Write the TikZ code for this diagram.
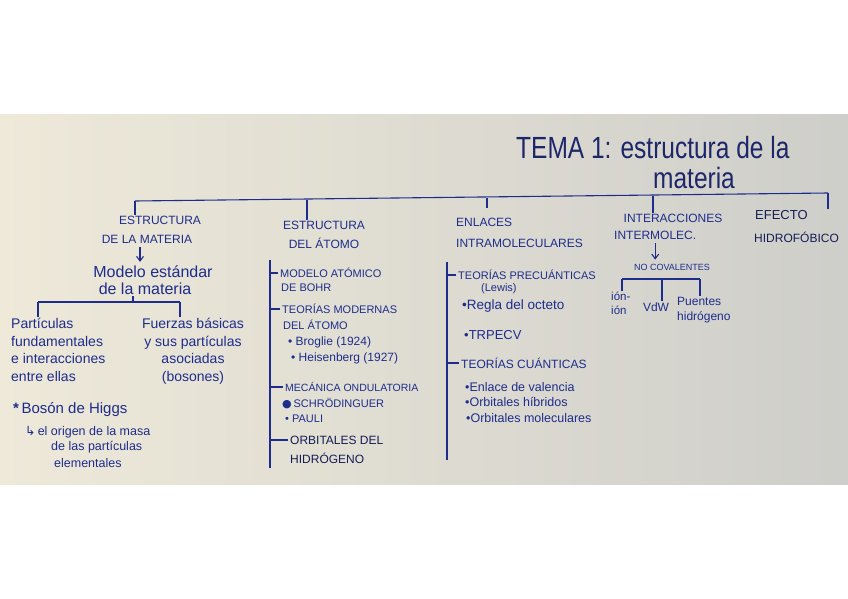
\documentclass[tikz,border=0pt]{standalone}
\usepackage{fontspec}
\setmainfont{Liberation Sans}
\newfontfamily\symfont{DejaVu Sans}
\usetikzlibrary{arrows.meta}

\definecolor{ink}{RGB}{30,45,140}
\definecolor{darkink}{RGB}{22,28,85}
\definecolor{titleink}{RGB}{28,38,105}
\definecolor{boardleft}{RGB}{238,233,217}
\definecolor{boardmid}{RGB}{232,230,220}
\definecolor{boardright}{RGB}{206,206,202}

\begin{document}
\begin{tikzpicture}[x = 1pt, y = -1pt,
    every node/.style = {text = ink, inner sep = 1pt},
    title/.style      = {text = titleink, font = \fontsize{24.5}{28}\selectfont},
    head/.style       = {font = \fontsize{12}{14}\selectfont},
    lead/.style       = {font = \fontsize{16}{18}\selectfont},
    block/.style      = {font = \fontsize{14}{17.5}\selectfont, align = left},
    note/.style       = {font = \fontsize{12.5}{15}\selectfont, anchor = west},
    itemcaps/.style   = {font = \fontsize{11}{13}\selectfont, anchor = west},
    itemhand/.style   = {font = \fontsize{12.5}{15}\selectfont, anchor = west},
    link/.style       = {draw = ink, line width = 1.1pt},
    arr/.style        = {link, -{Straight Barb[length = 1.6mm, width = 2.4mm]}, shorten < = 3pt, shorten > = 3pt},
]

\useasboundingbox (0,0) rectangle (848,599);
\shade[left color = boardleft, middle color = boardmid, right color = boardright] (0,115) rectangle (848,484);

% ---------- title ----------
\node[title, anchor = base west] (title1) at (515,158) {\scalebox{1}[1.25]{TEMA 1: estructura de la}};
\node[title, anchor = base]      (title2) at (694,188) {\scalebox{1}[1.2]{materia}};

% ---------- headers ----------
\node[head] (mat1) at (160,220) {ESTRUCTURA};
\node[head] (mat2) at (147,239) {DE LA MATERIA};
\node[head] (ato1) at (324,225) {ESTRUCTURA};
\node[head] (ato2) at (324,243) {DEL ÁTOMO};
\node[head, anchor = west] (enl1) at (455,222) {ENLACES};
\node[head, anchor = west] (enl2) at (455,243) {INTRAMOLECULARES};
\node[head] (int1) at (673,218) {INTERACCIONES};
\node[head, anchor = west] (int2) at (613,235) {INTERMOLEC.};
\node[head, anchor = west, text = darkink, font = \fontsize{13}{15}\selectfont] (efe1) at (754,215) {EFECTO};
\node[head, anchor = west, text = darkink] (efe2) at (753,237) {HIDROFÓBICO};

% ---------- estructura de la materia ----------
\node[lead] (std1) at (153,272) {Modelo estándar};
\node[lead] (std2) at (145,289) {de la materia};
\node[block, anchor = north west] (part) at (10,317) {Partículas\\fundamentales\\e interacciones\\entre ellas};
\node[block, align = center, anchor = north] (fuer) at (193,317) {Fuerzas básicas\\y sus partículas\\asociadas\\(bosones)};
\node[font = \fontsize{15}{17}\selectfont, anchor = west] (higgs) at (12,410) {\textbf{*}\,Bosón de Higgs};
\node[note] (mass1) at (24,432) {{\symfont ↳}\,el origen de la masa};
\node[note] (mass2) at (50,447) {de las partículas};
\node[note] (mass3) at (53,463) {elementales};

% ---------- estructura del atomo ----------
\node[itemcaps] (bohr1) at (279,273) {MODELO ATÓMICO};
\node[itemcaps] (bohr2) at (280,288) {DE BOHR};
\node[itemcaps] (mod1)  at (281,309) {TEORÍAS MODERNAS};
\node[itemcaps] (mod2)  at (282,325) {DEL ÁTOMO};
\node[itemhand, font = \fontsize{12}{14}\selectfont] (bro) at (287,342) {• Broglie (1924)};
\node[itemhand, font = \fontsize{12}{14}\selectfont] (hei) at (290,358) {• Heisenberg (1927)};
\node[itemcaps, font = \fontsize{10.5}{13}\selectfont] (ond) at (284,387) {MECÁNICA ONDULATORIA};
\node[itemcaps] (sch) at (281,404) {{\symfont ●}\,SCHRÖDINGUER};
\node[itemcaps] (pau) at (284,419) {• PAULI};
\node[itemcaps, text = darkink, font = \fontsize{12}{14}\selectfont] (orb1) at (289,440) {ORBITALES DEL};
\node[itemcaps, text = darkink, font = \fontsize{12}{14}\selectfont] (orb2) at (289,458) {HIDRÓGENO};

% ---------- enlaces intramoleculares ----------
\node[itemcaps] (pre1) at (457,275) {TEORÍAS PRECUÁNTICAS};
\node[itemcaps] (pre2) at (480,289) {(Lewis)};
\node[itemhand, font = \fontsize{13.5}{16}\selectfont] (oct) at (461,306) {•Regla del octeto};
\node[itemcaps, font = \fontsize{13}{15}\selectfont] (trp) at (463,335) {•TRPECV};
\node[itemcaps, font = \fontsize{12}{14}\selectfont] (cua) at (460,363) {TEORÍAS CUÁNTICAS};
\node[itemhand] (val) at (464,387) {•Enlace de valencia};
\node[itemhand] (hib) at (464,402) {•Orbitales híbridos};
\node[itemhand] (mol) at (465,418) {•Orbitales moleculares};

% ---------- interacciones intermoleculares ----------
\node[font = \fontsize{9}{11}\selectfont] (nocov) at (672,267) {NO COVALENTES};
\node[font = \fontsize{11.5}{13.5}\selectfont, align = left, anchor = north west] (ion) at (610,291) {ión-\\ión};
\node[font = \fontsize{12}{14}\selectfont] (vdw) at (656,307) {VdW};
\node[font = \fontsize{12}{15}\selectfont, align = left, anchor = north west] (pue) at (676,296) {Puentes\\hidrógeno};

% ---------- main bracket ----------
\coordinate (barL) at (135,201);
\coordinate (bar2) at (307,200);
\coordinate (bar3) at (487,198);
\coordinate (bar4) at (653,196);
\coordinate (barR) at (828,193);
\draw[link] (barL) -- (barR);
\draw[link] (barL) -- (barL |- mat1.north);
\draw[link] (bar2) -- (bar2 |- ato1.north);
\draw[link] (bar3) -- (487,208);
\draw[link] (bar4) -- (bar4 |- int1.north);
\draw[link] (barR) -- (barR |- efe1.north);

% ---------- materia: arrow and bracket ----------
\draw[arr] ([xshift=-7pt]mat2.south) -- ([xshift=-7pt]mat2.south |- std1.north);
\coordinate (brL) at (38,302);
\coordinate (brR) at (180,302);
\draw[link] (brL) -- (brR);
\draw[link] ([xshift=-12pt]std2.south) -- ([xshift=-12pt]std2.south |- brL);
\draw[link] (brL) -- (brL |- part.north);
\draw[link] (brR) -- (brR |- fuer.north);

% ---------- atomo: spine ----------
\coordinate (sp2a) at (270,260);
\coordinate (sp2b) at (270,468);
\draw[link] (sp2a) -- (sp2b);
\foreach \n in {bohr1, mod1, ond, orb1}
    \draw[link] (\n.west -| sp2a) -- ([xshift=-1pt]\n.west);

% ---------- enlaces: spine ----------
\coordinate (sp3a) at (447,262);
\coordinate (sp3b) at (447,460);
\draw[link] (sp3a) -- (sp3b);
\foreach \n in {pre1, cua}
    \draw[link] (\n.west -| sp3a) -- ([xshift=-1pt]\n.west);

% ---------- interacciones: arrow and bracket ----------
\draw[arr] (int2.south) -- (int2.south |- nocov.north);
\coordinate (br4L) at (622,279);
\coordinate (br4M) at (662,279);
\coordinate (br4R) at (700,279);
\draw[link] (br4L) -- (br4R);
\draw[link] (br4L) -- (br4L |- ion.north);
\draw[link] (br4M) -- (br4M |- vdw.north);
\draw[link] (br4R) -- (br4R |- pue.north);

\end{tikzpicture}
\end{document}
